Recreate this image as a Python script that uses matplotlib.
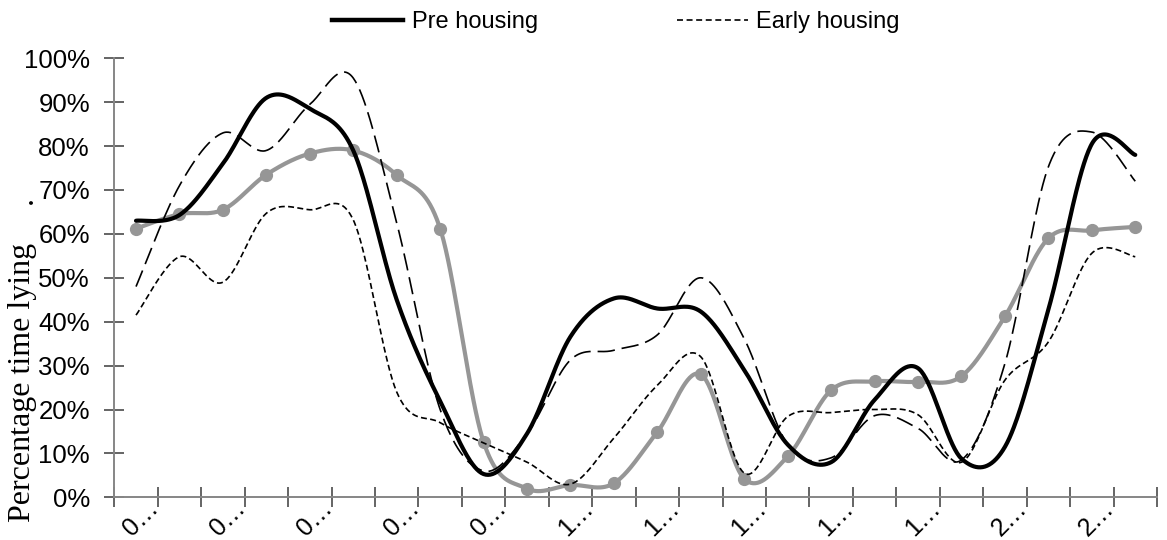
import numpy as np
import matplotlib
matplotlib.use("Agg")
import matplotlib.pyplot as plt
import matplotlib.transforms as mtransforms
from matplotlib.lines import Line2D

plt.rcParams['lines.scale_dashes'] = False

# ---------------- data ----------------
hours = ["00:00", "01:00", "02:00", "03:00", "04:00", "05:00", "06:00", "07:00",
         "08:00", "09:00", "10:00", "11:00", "12:00", "13:00", "14:00", "15:00",
         "16:00", "17:00", "18:00", "19:00", "20:00", "21:00", "22:00", "23:00"]

pre_housing = [63.0, 64.3, 76.0, 91.0, 88.5, 79.0, 45.0, 21.9, 5.3, 14.5, 36.6, 45.3,
               43.0, 42.3, 29.0, 12.0, 8.0, 22.2, 29.4, 8.8, 11.5, 42.8, 80.5, 78.0]

early_housing = [41.5, 54.8, 49.0, 64.7, 65.5, 63.2, 24.0, 17.0, 12.4, 8.0, 3.0, 13.5,
                 25.5, 32.0, 5.5, 18.4, 19.3, 20.0, 18.8, 8.0, 26.7, 35.4, 55.6, 54.8]

late_housing = [48.0, 71.0, 83.0, 79.0, 89.5, 95.5, 62.5, 20.0, 6.0, 14.5, 31.3, 33.5,
                37.0, 50.0, 36.1, 12.0, 9.0, 18.6, 15.7, 8.5, 30.5, 75.3, 83.2, 72.0]

post_housing = [61.2, 64.5, 65.5, 73.5, 78.3, 79.0, 73.4, 61.2, 12.6, 2.0, 2.8, 3.2,
                14.9, 28.0, 4.2, 9.3, 24.4, 26.4, 26.3, 27.6, 41.2, 59.0, 60.8, 61.6]

yticks = [0, 10, 20, 30, 40, 50, 60, 70, 80, 90, 100]


def smooth(xs, ys, n=40):
    """Excel-like smoothed line (Catmull-Rom Bezier through the points)."""
    P = np.column_stack([xs, ys]).astype(float)
    Pm = np.vstack([P[0], P, P[-1]])
    out = []
    t = np.linspace(0, 1, n)[:, None]
    for i in range(len(P) - 1):
        p0, p1, p2, p3 = Pm[i], Pm[i + 1], Pm[i + 2], Pm[i + 3]
        c1 = p1 + (p2 - p0) / 6.0
        c2 = p2 - (p3 - p1) / 6.0
        seg = (1 - t) ** 3 * p1 + 3 * (1 - t) ** 2 * t * c1 + 3 * (1 - t) * t ** 2 * c2 + t ** 3 * p2
        out.append(seg if i == 0 else seg[1:])
    arr = np.vstack(out)
    return arr[:, 0], arr[:, 1]


W, H = 1167, 540
fig = plt.figure(figsize=(W / 100, H / 100), dpi=100)
ax_l, ax_r, ax_t, ax_b = 114.3, 1157.0, 58.3, 497.3
ax = fig.add_axes([ax_l / W, 1 - ax_b / H, (ax_r - ax_l) / W, (ax_b - ax_t) / H])

x = np.arange(len(hours)) + 0.5

sans = ['Liberation Sans', 'DejaVu Sans']
serif = ['Liberation Serif', 'DejaVu Serif']

grey = '#969696'
gx, gy = smooth(x, post_housing)
ax.plot(gx, gy, color=grey, lw=3.0, solid_capstyle='round', zorder=2)
ax.plot(x, post_housing, ls='none', marker='o', ms=8.5, color=grey, zorder=2)

lx, ly = smooth(x, late_housing)
ax.plot(lx, ly, color='black', lw=1.2, dashes=(12.5, 5.0), zorder=3)

ex, ey = smooth(x, early_housing)
ax.plot(ex, ey, color='black', lw=1.2, dashes=(4.3, 2.4), zorder=3)

px, py = smooth(x, pre_housing)
ax.plot(px, py, color='black', lw=3.0, solid_capstyle='round', zorder=4)

ax.set_xlim(0, 24)
ax.set_ylim(0, 100)

for s in ['top', 'right']:
    ax.spines[s].set_visible(False)
for s in ['left', 'bottom']:
    ax.spines[s].set_color('#868686')
    ax.spines[s].set_linewidth(1.4)

ax.set_xticks(np.arange(0, 25))
ax.set_xticklabels([])
ax.set_yticks(yticks)
ax.set_yticklabels([f"{v}%" for v in yticks], fontsize=18.5, family=sans)
ax.tick_params(axis='both', which='major', direction='inout', length=15, width=1.1,
               color='#3a3a3a')
ax.tick_params(axis='y', pad=10)

# x category labels (truncated, rotated)
off = mtransforms.ScaledTranslation(5 / 100, -21 / 100, fig.dpi_scale_trans)
for i in range(0, len(hours), 2):
    ax.text(x[i], 0, hours[i][0] + "\u2026", rotation=45, rotation_mode='anchor',
            ha='center', va='center', fontsize=18, family=sans,
            transform=ax.get_xaxis_transform() + off, clip_on=False)

# y label
fig.text(23 / W, 1 - 382 / H, "Percentage time lying", rotation=90, ha='center',
         va='center', fontsize=23, family=serif)
fig.text(24 / W, 1 - 200 / H, ".", rotation=90, ha='center', va='center',
         fontsize=23, family=serif)

handles = [Line2D([], [], color='black', lw=3.2),
           Line2D([], [], color='black', lw=1.2, dashes=(4.3, 2.6))]
fig.legend(handles, ["Pre housing", "Early housing"], loc='center',
           bbox_to_anchor=(616 / W, 1 - 22 / H), ncol=2, frameon=False,
           prop={'family': sans, 'size': 17}, handlelength=3.0, handletextpad=0.35,
           columnspacing=5.9, borderpad=0, borderaxespad=0)

fig.savefig("out.png", dpi=100)
